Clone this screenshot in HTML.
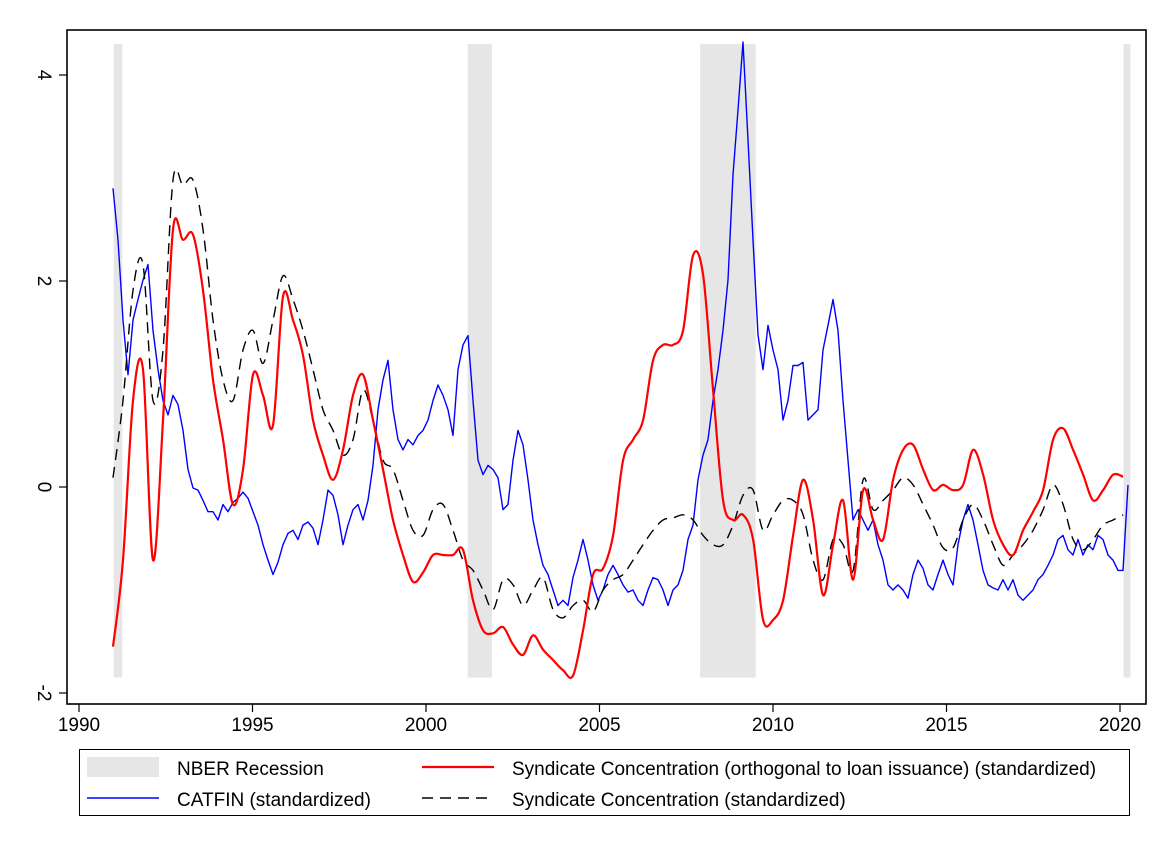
<!DOCTYPE html>
<html><head><meta charset="utf-8">
<style>
html,body{margin:0;padding:0;background:#fff;}
svg{display:block;font-family:"Liberation Sans",Arial,sans-serif;}
</style></head>
<body>
<svg id="chart" width="1172" height="853" viewBox="0 0 1172 853">
<rect x="0" y="0" width="1172" height="853" fill="#fff"/>
<g id="rec"></g>
<g id="series"></g>
<rect x="67" y="30" width="1079" height="674" fill="none" stroke="#000" stroke-width="1.6"/>
<g id="axes"></g>
<g>
<rect x="79.5" y="749.5" width="1050" height="66" fill="none" stroke="#000" stroke-width="1"/>
<rect x="87" y="757" width="72" height="20" fill="#e6e6e6"/>
<text x="177" y="775" font-size="19">NBER Recession</text>
<line x1="87" y1="798" x2="159" y2="798" stroke="#0000ff" stroke-width="1.5"/>
<text x="177" y="806" font-size="19">CATFIN (standardized)</text>
<line x1="422" y1="767" x2="494" y2="767" stroke="#ff0000" stroke-width="2.2"/>
<text x="512" y="775" font-size="19">Syndicate Concentration (orthogonal to loan issuance) (standardized)</text>
<line x1="422" y1="798" x2="494" y2="798" stroke="#000" stroke-width="1.5" stroke-dasharray="11,7"/>
<text x="512" y="806" font-size="19">Syndicate Concentration (standardized)</text>
</g>
</svg>
<script>
const xTicks=[1990,1995,2000,2005,2010,2015,2020];
const yTicks=[-2,0,2,4];
const recStart=[1991.0,2001.2,2007.9,2020.1];
const recEnd=[1991.25,2001.9,2009.5,2020.3];
const catfinStart=1990.98, catfinEnd=2020.23;
const catfin=[2.90,2.40,1.62,1.09,1.62,1.82,2.01,2.16,1.52,1.14,0.84,0.70,0.89,0.80,0.55,0.17,-0.01,-0.03,-0.13,-0.24,-0.24,-0.32,-0.17,-0.24,-0.15,-0.11,-0.05,-0.11,-0.24,-0.37,-0.56,-0.71,-0.85,-0.73,-0.56,-0.45,-0.42,-0.51,-0.37,-0.34,-0.40,-0.56,-0.32,-0.03,-0.08,-0.27,-0.56,-0.37,-0.22,-0.17,-0.32,-0.13,0.21,0.75,1.04,1.23,0.75,0.46,0.36,0.46,0.41,0.50,0.55,0.65,0.84,0.99,0.89,0.75,0.50,1.14,1.38,1.47,0.84,0.26,0.12,0.21,0.17,0.09,-0.22,-0.17,0.26,0.55,0.41,0.07,-0.32,-0.56,-0.76,-0.85,-1.00,-1.15,-1.10,-1.15,-0.88,-0.71,-0.51,-0.71,-0.95,-1.10,-1.00,-0.85,-0.76,-0.85,-0.95,-1.02,-1.00,-1.10,-1.15,-1.00,-0.88,-0.90,-1.00,-1.15,-1.00,-0.95,-0.81,-0.51,-0.37,0.07,0.31,0.46,0.84,1.14,1.52,2.01,3.03,3.66,4.32,3.37,2.40,1.48,1.14,1.57,1.33,1.14,0.65,0.84,1.18,1.18,1.21,0.65,0.70,0.75,1.33,1.57,1.82,1.52,0.84,0.26,-0.32,-0.22,-0.32,-0.42,-0.32,-0.56,-0.71,-0.95,-1.00,-0.95,-1.00,-1.08,-0.85,-0.71,-0.79,-0.95,-1.00,-0.85,-0.71,-0.85,-0.95,-0.56,-0.32,-0.17,-0.32,-0.56,-0.81,-0.95,-0.98,-1.00,-0.90,-1.00,-0.90,-1.05,-1.10,-1.05,-1.00,-0.90,-0.85,-0.76,-0.66,-0.51,-0.47,-0.61,-0.66,-0.51,-0.66,-0.56,-0.61,-0.47,-0.51,-0.66,-0.71,-0.81,-0.81,0.02];
const synStart=1990.98, synEnd=2020.09;
const synOrth=[-1.55,-0.71,0.84,1.14,-0.71,0.65,2.50,2.40,2.45,1.91,1.04,0.46,-0.17,0.17,1.09,0.89,0.60,1.85,1.62,1.28,0.65,0.31,0.07,0.36,0.89,1.09,0.65,0.17,-0.32,-0.66,-0.92,-0.83,-0.66,-0.66,-0.66,-0.61,-1.10,-1.39,-1.42,-1.36,-1.53,-1.63,-1.44,-1.58,-1.68,-1.78,-1.83,-1.39,-0.85,-0.79,-0.47,0.26,0.46,0.65,1.23,1.38,1.38,1.52,2.25,2.06,0.94,-0.13,-0.32,-0.27,-0.51,-1.29,-1.29,-1.10,-0.47,0.07,-0.32,-1.05,-0.56,-0.13,-0.90,-0.03,-0.32,-0.51,0.07,0.36,0.41,0.17,-0.03,0.02,-0.03,0.02,0.36,0.12,-0.32,-0.56,-0.66,-0.42,-0.24,-0.03,0.46,0.57,0.36,0.12,-0.13,-0.03,0.12,0.10];
const syn=[0.09,0.84,1.91,2.16,0.84,1.33,2.98,2.93,2.98,2.50,1.62,1.04,0.84,1.33,1.52,1.20,1.62,2.05,1.82,1.52,1.14,0.75,0.55,0.31,0.46,0.94,0.65,0.26,0.17,-0.13,-0.42,-0.47,-0.22,-0.17,-0.42,-0.71,-0.81,-1.00,-1.19,-0.90,-0.95,-1.15,-1.00,-0.88,-1.19,-1.27,-1.15,-1.10,-1.21,-1.00,-0.90,-0.85,-0.71,-0.56,-0.42,-0.32,-0.30,-0.27,-0.32,-0.47,-0.56,-0.56,-0.37,-0.08,-0.03,-0.42,-0.27,-0.13,-0.13,-0.27,-0.71,-0.90,-0.51,-0.56,-0.81,0.07,-0.22,-0.13,-0.03,0.09,0.02,-0.17,-0.37,-0.59,-0.59,-0.32,-0.17,-0.32,-0.56,-0.76,-0.66,-0.56,-0.42,-0.22,0.02,-0.17,-0.51,-0.61,-0.51,-0.37,-0.32,-0.27];

const X=y=>79+(y-1990)*34.7;
const Y=v=>487-v*103;
const NS='http://www.w3.org/2000/svg';
function mk(tag,attrs,parent){const e=document.createElementNS(NS,tag);for(const k in attrs)e.setAttribute(k,attrs[k]);parent.appendChild(e);return e;}
function pts(arr,s,e){const n=arr.length;return arr.map((v,i)=>[X(s+(e-s)*i/(n-1)),Y(v)]);}
function linePath(p){return 'M'+p.map(q=>q[0].toFixed(1)+','+q[1].toFixed(1)).join('L');}
function smoothPath(p){let d='M'+p[0][0].toFixed(1)+','+p[0][1].toFixed(1);for(let i=0;i<p.length-1;i++){const p0=p[Math.max(0,i-1)],p1=p[i],p2=p[i+1],p3=p[Math.min(p.length-1,i+2)];const c1=[p1[0]+(p2[0]-p0[0])/6,p1[1]+(p2[1]-p0[1])/6],c2=[p2[0]-(p3[0]-p1[0])/6,p2[1]-(p3[1]-p1[1])/6];d+='C'+c1[0].toFixed(1)+','+c1[1].toFixed(1)+' '+c2[0].toFixed(1)+','+c2[1].toFixed(1)+' '+p2[0].toFixed(1)+','+p2[1].toFixed(1);}return d;}

const rec=document.getElementById('rec');
recStart.forEach((s,i)=>{
  const r=mk('rect',{x:X(s),y:Y(4.3),width:X(recEnd[i])-X(s),height:Y(-1.85)-Y(4.3),fill:'#e6e6e6'},rec);
  
  
});
const ser=document.getElementById('series');
const pb=mk('path',{d:linePath(pts(catfin,catfinStart,catfinEnd)),fill:'none',stroke:'#0000ff','stroke-width':1.4,'stroke-linejoin':'round'},ser);


const pk=mk('path',{d:smoothPath(pts(syn,synStart,synEnd)),fill:'none',stroke:'#000','stroke-width':1.4,'stroke-dasharray':'11,7'},ser);


const pr=mk('path',{d:smoothPath(pts(synOrth,synStart,synEnd)),fill:'none',stroke:'#ff0000','stroke-width':2.2,'stroke-linejoin':'round'},ser);



const ax=document.getElementById('axes');
xTicks.forEach(t=>{
  const l=mk('line',{x1:X(t),x2:X(t),y1:704,y2:712,stroke:'#000','stroke-width':1.2},ax);
  
  
  const tx=mk('text',{x:X(t),y:731,'font-size':19,'text-anchor':'middle'},ax);
  tx.textContent=t;
  
  
});
yTicks.forEach(t=>{
  const l=mk('line',{x1:59,x2:67,y1:Y(t),y2:Y(t),stroke:'#000','stroke-width':1.2},ax);
  
  
  const tx=mk('text',{x:0,y:0,'font-size':19,'text-anchor':'middle',transform:'translate(38,'+Y(t)+') rotate(90)'},ax);
  tx.textContent=t;
  
  
});
</script>
</body></html>
